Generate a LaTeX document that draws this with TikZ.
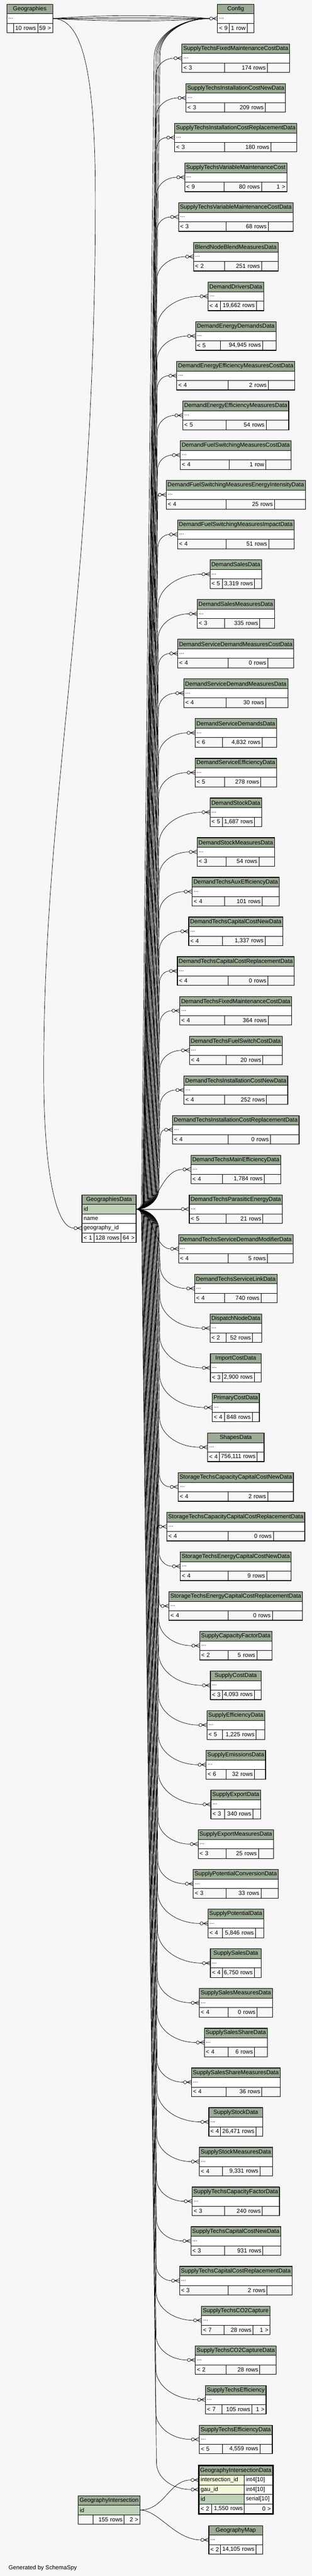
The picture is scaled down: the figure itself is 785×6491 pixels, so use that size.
\documentclass[tikz,border=0pt]{standalone}
\usepackage{fontspec}
\setmainfont{Liberation Sans}
\usepackage{tikz}

\definecolor{bgc}{HTML}{F7F7F7}
\definecolor{hdc}{HTML}{9BAB96}
\definecolor{pkc}{HTML}{BED1B8}
\definecolor{fkc}{HTML}{F4F7DA}

\newcommand\erdfont{\fontsize{14.67pt}{17pt}\selectfont}
\newdimen\hdrw
\newdimen\lfw
\newdimen\rww
\newdimen\rtw
\newcommand\measure[2]{\pgfinterruptpicture\setbox0=\hbox{\erdfont #2}\global#1=\wd0\endpgfinterruptpicture}

\tikzset{
	cell/.style={draw, line width=0.8pt, inner sep=0pt, outer sep=0pt, minimum height=24pt},
	hd/.style={cell, fill=hdc},
	bd/.style={cell, fill=white, inner xsep=4pt, align=left},
	ft/.style={cell, fill=bgc, inner xsep=4pt},
	tbframe/.style={draw, line width=1.3pt},
	fk/.style={line width=0.9pt}
}

\newcommand\erdsize[5]{%
	\measure\hdrw{#2}%
	\measure\lfw{#3}%
	\measure\rww{#4}%
	\measure\rtw{#5}%
	\pgfmathsetmacro\tbA{max(\the\lfw,8.2)+9}%
	\pgfmathsetmacro\tbB{\the\rww+9}%
	\pgfmathsetmacro\tbC{max(\the\rtw,8.2)+9}%
	\pgfmathsetmacro\tbW{max(\the\hdrw+7,\tbA+\tbB+\tbC)}%
	\pgfmathsetmacro\tbE{(\tbW-\tbA-\tbB-\tbC)/4}%
	\pgfmathsetmacro\tbA{\tbA+2*\tbE}%
	\pgfmathsetmacro\tbB{\tbB+\tbE}%
	\pgfmathsetmacro\tbC{\tbC+\tbE}%
	\pgfmathsetmacro\tbX{#1-\tbW/2}%
	\pgfmathsetmacro\tbWt{\tbW-8}%
	\pgfmathsetmacro\tbAt{\tbA-8}%
	\pgfmathsetmacro\tbBt{\tbB-8}%
	\pgfmathsetmacro\tbCt{\tbC-8}%
}

\newcommand\erdfoot[5]{%
	\node[ft, anchor=west, minimum width=\tbA pt, text width=\tbAt pt, align=left] (#1-l) at (\tbX,#2) {#3};
	\node[ft, anchor=west, minimum width=\tbB pt, text width=\tbBt pt, align=right] (#1-r) at (\tbX+\tbA,#2) {#4};
	\node[ft, anchor=west, minimum width=\tbC pt, text width=\tbCt pt, align=right] (#1-c) at (\tbX+\tbA+\tbB,#2) {#5};
}

\newcommand\erdtable[7]{%
	\erdsize{#2}{#4}{#5}{#6}{#7}%
	\node[hd, minimum width=\tbW pt] (#1-h) at (#2,#3+12) {#4};
	\node[bd, minimum width=\tbW pt, text width=\tbWt pt] (#1) at (#2,#3+36) {...};
	\erdfoot{#1}{#3+60}{#5}{#6}{#7}%
	\draw[tbframe] (#1-h.north west) rectangle (#1-c.south east);
}

\newcommand\crowodot[1]{%
	\draw[fk, fill=white] ([xshift=-16pt]#1.west) circle[radius=4pt];
	\draw[fk] ([xshift=-12pt]#1.west) -- ([yshift=5pt]#1.west) ([xshift=-12pt]#1.west) -- (#1.west) ([xshift=-12pt]#1.west) -- ([yshift=-5pt]#1.west);
	\coordinate (#1-in) at ([xshift=-20pt]#1.west);
}

\newcommand\gdedge[3]{%
	\path (gd-id.east); \pgfgetlastxy{\gfx}{\gfy}%
	\path (#1); \pgfgetlastxy{\gtx}{\gty}%
	\pgfmathsetmacro\gdy{\gty-\gfy}%
	\pgfmathsetmacro\gsg{sign(\gdy)}%
	\pgfmathsetmacro\gady{abs(\gdy)}%
	\ifdim\gady pt<150pt
		\pgfmathsetmacro\gmx{(\gfx+\gtx)/2}%
		\draw[fk] (gd-id.east) .. controls (\gmx pt,\gfy) and (\gmx pt,\gty) .. (#1);
	\else
		\pgfmathsetmacro\gha{max(0.9*(#2-\gfx),15)}%
		\pgfmathsetmacro\ghb{0.6*(\gtx-#3)+15}%
		\pgfmathsetmacro\gcax{\gfx+0.55*(#2-\gfx)}%
		\pgfmathsetmacro\gcay{\gfy+\gsg*0.45*\gha}%
		\pgfmathsetmacro\gvay{\gfy+\gsg*\gha}%
		\pgfmathsetmacro\gvby{\gty-\gsg*\ghb}%
		\pgfmathsetmacro\gcby{\gty-\gsg*0.45*\ghb}%
		\pgfmathsetmacro\gcbx{#3+0.45*(\gtx-#3)}%
		\draw[fk] (gd-id.east) .. controls (\gcax pt,\gfy) and (#2pt,\gcay pt) .. (#2pt,\gvay pt) -- (#3pt,\gvby pt) .. controls (#3pt,\gcby pt) and (\gcbx pt,\gty) .. (#1);
	\fi
}

\begin{document}
\erdfont
\begin{tikzpicture}[x=1pt, y=-1pt, font=\erdfont]
		\fill[bgc] (0,0) rectangle (785,6491);
		\useasboundingbox (0,0) rectangle (785,6491);

		\foreach \i/\nm/\lf/\rw/\rt in {
				0/Config/{< 9}/{1 row}/{},
				1/SupplyTechsFixedMaintenanceCostData/{< 3}/{174 rows}/{},
				2/SupplyTechsInstallationCostNewData/{< 3}/{209 rows}/{},
				3/SupplyTechsInstallationCostReplacementData/{< 3}/{180 rows}/{},
				4/SupplyTechsVariableMaintenanceCost/{< 9}/{80 rows}/{1 >},
				5/SupplyTechsVariableMaintenanceCostData/{< 3}/{68 rows}/{},
				6/BlendNodeBlendMeasuresData/{< 2}/{251 rows}/{},
				7/DemandDriversData/{< 4}/{19,662 rows}/{},
				8/DemandEnergyDemandsData/{< 5}/{94,945 rows}/{},
				9/DemandEnergyEfficiencyMeasuresCostData/{< 4}/{2 rows}/{},
				10/DemandEnergyEfficiencyMeasuresData/{< 5}/{54 rows}/{},
				11/DemandFuelSwitchingMeasuresCostData/{< 4}/{1 row}/{},
				12/DemandFuelSwitchingMeasuresEnergyIntensityData/{< 4}/{25 rows}/{},
				13/DemandFuelSwitchingMeasuresImpactData/{< 4}/{51 rows}/{},
				14/DemandSalesData/{< 5}/{3,319 rows}/{},
				15/DemandSalesMeasuresData/{< 3}/{335 rows}/{},
				16/DemandServiceDemandMeasuresCostData/{< 4}/{0 rows}/{},
				17/DemandServiceDemandMeasuresData/{< 4}/{30 rows}/{},
				18/DemandServiceDemandsData/{< 6}/{4,832 rows}/{},
				19/DemandServiceEfficiencyData/{< 5}/{278 rows}/{},
				20/DemandStockData/{< 5}/{1,687 rows}/{},
				21/DemandStockMeasuresData/{< 3}/{54 rows}/{},
				22/DemandTechsAuxEfficiencyData/{< 4}/{101 rows}/{},
				23/DemandTechsCapitalCostNewData/{< 4}/{1,337 rows}/{},
				24/DemandTechsCapitalCostReplacementData/{< 4}/{0 rows}/{},
				25/DemandTechsFixedMaintenanceCostData/{< 4}/{364 rows}/{},
				26/DemandTechsFuelSwitchCostData/{< 4}/{20 rows}/{},
				27/DemandTechsInstallationCostNewData/{< 4}/{252 rows}/{},
				28/DemandTechsInstallationCostReplacementData/{< 4}/{0 rows}/{},
				29/DemandTechsMainEfficiencyData/{< 4}/{1,784 rows}/{},
				30/DemandTechsParasiticEnergyData/{< 5}/{21 rows}/{},
				31/DemandTechsServiceDemandModifierData/{< 4}/{5 rows}/{},
				32/DemandTechsServiceLinkData/{< 4}/{740 rows}/{},
				33/DispatchNodeData/{< 2}/{52 rows}/{},
				34/ImportCostData/{< 3}/{2,900 rows}/{},
				35/PrimaryCostData/{< 4}/{848 rows}/{},
				36/ShapesData/{< 4}/{756,111 rows}/{},
				37/StorageTechsCapacityCapitalCostNewData/{< 4}/{2 rows}/{},
				38/StorageTechsCapacityCapitalCostReplacementData/{< 4}/{0 rows}/{},
				39/StorageTechsEnergyCapitalCostNewData/{< 4}/{9 rows}/{},
				40/StorageTechsEnergyCapitalCostReplacementData/{< 4}/{0 rows}/{},
				41/SupplyCapacityFactorData/{< 2}/{5 rows}/{},
				42/SupplyCostData/{< 3}/{4,093 rows}/{},
				43/SupplyEfficiencyData/{< 5}/{1,225 rows}/{},
				44/SupplyEmissionsData/{< 6}/{32 rows}/{},
				45/SupplyExportData/{< 3}/{340 rows}/{},
				46/SupplyExportMeasuresData/{< 3}/{25 rows}/{},
				47/SupplyPotentialConversionData/{< 3}/{33 rows}/{},
				48/SupplyPotentialData/{< 4}/{5,846 rows}/{},
				49/SupplySalesData/{< 4}/{6,750 rows}/{},
				50/SupplySalesMeasuresData/{< 4}/{0 rows}/{},
				51/SupplySalesShareData/{< 4}/{6 rows}/{},
				52/SupplySalesShareMeasuresData/{< 4}/{36 rows}/{},
				53/SupplyStockData/{< 4}/{26,471 rows}/{},
				54/SupplyStockMeasuresData/{< 4}/{9,331 rows}/{},
				55/SupplyTechsCapacityFactorData/{< 3}/{240 rows}/{},
				56/SupplyTechsCapitalCostNewData/{< 3}/{931 rows}/{},
				57/SupplyTechsCapitalCostReplacementData/{< 3}/{2 rows}/{},
				58/SupplyTechsCO2Capture/{< 7}/{28 rows}/{1 >},
				59/SupplyTechsCO2CaptureData/{< 2}/{28 rows}/{},
				60/SupplyTechsEfficiency/{< 7}/{105 rows}/{1 >},
				61/SupplyTechsEfficiencyData/{< 5}/{4,559 rows}/{}
		}{
		\pgfmathsetmacro{\sy}{10.7+100*\i}
		\erdtable{t\i}{593.5}{\sy}{\nm}{\lf}{\rw}{\rt}
		\crowodot{t\i}
		}

		\erdtable{geo}{74.75}{10.7}{Geographies}{}{10 rows}{59 >}

		\erdsize{274.5}{GeographiesData}{< 1}{128 rows}{64 >}
		\node[hd, minimum width=\tbW pt] (gd-h) at (274.5,3022.7) {GeographiesData};
		\node[bd, fill=pkc, minimum width=\tbW pt, text width=\tbWt pt] (gd-id) at (274.5,3046.7) {id};
		\node[bd, minimum width=\tbW pt, text width=\tbWt pt] (gd-name) at (274.5,3070.7) {name};
		\node[bd, minimum width=\tbW pt, text width=\tbWt pt] (gd-geo) at (274.5,3094.7) {geography\_id};
		\erdfoot{gd}{3118.7}{< 1}{128 rows}{64 >}
		\draw[tbframe] (gd-h.north west) rectangle (gd-c.south east);
		\crowodot{gd-geo}

		\erdsize{274.5}{GeographyIntersection}{}{155 rows}{2 >}
		\node[hd, minimum width=\tbW pt] (gi-h) at (274.5,6300.7) {GeographyIntersection};
		\node[bd, fill=pkc, minimum width=\tbW pt, text width=\tbWt pt] (gi-id) at (274.5,6324.7) {id};
		\erdfoot{gi}{6348.7}{}{155 rows}{2 >}
		\draw[tbframe] (gi-h.north west) rectangle (gi-c.south east);

		\node[hd, minimum width=185] (gid-h) at (593.5,6225) {GeographyIntersectionData};
		\node[bd, fill=fkc, anchor=west, minimum width=114, text width=106] (gid-int) at (501,6249) {intersection\_id};
		\node[bd, anchor=west, minimum width=71, text width=63] (gid-int-t) at (615,6249) {int4[10]};
		\node[bd, fill=fkc, anchor=west, minimum width=114, text width=106] (gid-gau) at (501,6273) {gau\_id};
		\node[bd, anchor=west, minimum width=71, text width=63] (gid-gau-t) at (615,6273) {int4[10]};
		\node[bd, fill=pkc, anchor=west, minimum width=114, text width=106] (gid-id) at (501,6297) {id};
		\node[bd, anchor=west, minimum width=71, text width=63] (gid-id-t) at (615,6297) {serial[10]};
		\node[ft, anchor=west, minimum width=32, text width=24, align=left] (gid-l) at (501,6321) {< 2};
		\node[ft, anchor=west, minimum width=82, text width=74, align=right] (gid-r) at (533,6321) {1,550 rows};
		\node[ft, anchor=west, minimum width=71, text width=63, align=right] (gid-c) at (615,6321) {0 >};
		\draw[line width=3pt] ([shift={(-1.5pt,1.5pt)}]gid-h.north west) rectangle ([shift={(1.5pt,-1.5pt)}]gid-c.south east);
		\crowodot{gid-int}
		\crowodot{gid-gau}

		\erdtable{gm}{593.5}{6364}{GeographyMap}{< 2}{14,105 rows}{}
		\crowodot{gm}

		\foreach \d in {-10,-3,2,8}{
		\draw[fk] (geo.east) .. controls (260,46.7+\d) and (420,46.7+\d) .. (t0-in);
		}
		\draw[fk] (geo.east) .. controls (200,46.7) and (240,150) .. (240,500) .. controls (240,1500) and (110,2000) .. (110,2700) .. controls (110,2950) and (140,3094.7) .. (gd-geo-in);

		\foreach \i in {0,...,61}{
		\pgfmathsetmacro{\xa}{403-46*abs(\i-30)/31}
		\pgfmathsetmacro{\xc}{404-12*abs(\i-30)/31}
		\gdedge{t\i-in}{\xa}{\xc}
		}
		\foreach \xa/\xc in {356/388, 360/396, 362/400, 364/403}{
		\gdedge{t0-in}{\xa}{\xc}
		}
		\gdedge{gid-gau-in}{356}{394}

		\draw[fk] (gi-id.east) .. controls (415,6324.7) and (425,6249) .. (gid-int-in);
		\draw[fk] (gi-id.east) .. controls (400,6324.7) and (440,6400) .. (gm-in);

		\node[anchor=west] (gen) at (16.5,6471) {Generated by SchemaSpy};
\end{tikzpicture}
\end{document}
